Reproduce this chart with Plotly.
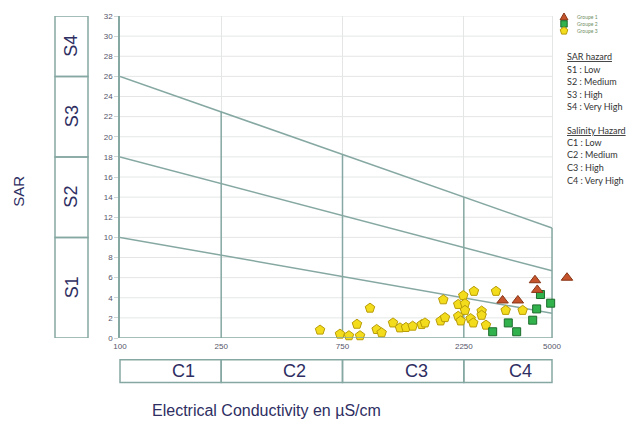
import math
import plotly.graph_objects as go

# ---- water samples: electrical conductivity (µS/cm) and SAR ----
g1_ec = [3196, 3670, 4286, 4375, 5727]
g1_sar = [3.73, 3.73, 5.74, 4.78, 5.99]

g2_ec = [2922, 3365, 3631, 4198, 4352, 4504, 4940]
g2_sar = [0.62, 1.50, 0.62, 1.77, 2.89, 4.32, 3.46]

g3_ec = [612, 733, 795, 879, 855, 962, 1022, 1069, 1185, 1262, 1333, 1416,
         1536, 1583, 1824, 1868, 1897, 2139, 2239, 2274, 2274, 2139, 2187,
         2393, 2450, 2466, 2644, 2644, 2750, 3011, 3287, 3833]
g3_sar = [0.79, 0.39, 0.23, 0.23, 1.37, 2.97, 0.85, 0.52, 1.50, 1.01, 1.05, 1.18,
          1.34, 1.50, 1.70, 3.80, 2.03, 3.34, 4.22, 3.41, 2.75, 2.16, 1.70,
          1.93, 1.50, 4.64, 2.68, 2.26, 1.28, 4.64, 2.75, 2.75]

# ---- Richards classification boundaries ----
ec_ends = [100, 5000]
s12_line = [10, 2.45]
s23_line = [18, 6.68]
s34_line = [26, 10.94]
c_limits = [250, 750, 2250, 5000]
c_tops = [22.48, 18.25, 14.02, 10.94]

s_bounds = [0, 10, 18, 26, 32]
s_names = ["S1", "S2", "S3", "S4"]
c_bounds = [100, 250, 750, 2250, 5000]
c_names = ["C1", "C2", "C3", "C4"]

x_ticks = [100, 250, 750, 2250, 5000]
y_ticks = list(range(0, 33, 2))

group_names = ["Groupe 1", "Groupe 2", "Groupe 3"]
sar_hazard = ["S1 : Low", "S2 : Medium", "S3 : High", "S4 : Very High"]
sal_hazard = ["C1 : Low", "C2 : Medium", "C3 : High", "C4 : Very High"]

# ---- geometry (pixels) ----
W, H = 632, 425
L, T, B = 120, 12, 87
FRAME_R = 552            # right edge of the diagram frame (EC = 5000)
AREA_R = 585             # plotting area runs a little further so outliers stay visible
PW, PH = AREA_R - L, H - T - B
LINE = "#86a8a2"
GRID = "#e4e6e6"
NAVY = "#2e2e62"

x_lo = math.log10(x_ticks[0])
decade_px = (FRAME_R - L) / (math.log10(x_ticks[-1]) - x_lo)
x_hi = x_lo + PW / decade_px


def px(x):
    return (x - L) / PW


def py(y):
    return (H - B - y) / PH


def logpos(v):
    return (math.log10(v) - x_lo) / (x_hi - x_lo)


fig = go.Figure()

# diagonal SAR class boundaries
for line in (s12_line, s23_line, s34_line):
    fig.add_trace(go.Scatter(x=ec_ends, y=line, mode="lines",
                             line=dict(color=LINE, width=1.5),
                             hoverinfo="skip", showlegend=False))

# vertical salinity class boundaries
vx, vy = [], []
for c, top in zip(c_limits, c_tops):
    vx += [c, c, None]
    vy += [0, top, None]
fig.add_trace(go.Scatter(x=vx, y=vy, mode="lines",
                         line=dict(color=LINE, width=1.5),
                         hoverinfo="skip", showlegend=False))

# samples
fig.add_trace(go.Scatter(x=g3_ec, y=g3_sar, mode="markers", name=group_names[2],
                         marker=dict(symbol="pentagon", size=10, color="#f3dc1c",
                                     line=dict(color="#b89c08", width=1)),
                         cliponaxis=False, showlegend=False))
fig.add_trace(go.Scatter(x=g2_ec, y=g2_sar, mode="markers", name=group_names[1],
                         marker=dict(symbol="square", size=8, color="#31b24d",
                                     line=dict(color="#1d6b2c", width=1)),
                         cliponaxis=False, showlegend=False))
fig.add_trace(go.Scatter(x=g1_ec, y=g1_sar, mode="markers", name=group_names[0],
                         marker=dict(symbol="triangle-up", size=10, color="#c5542c",
                                     line=dict(color="#873516", width=1)),
                         cliponaxis=False, showlegend=False))

shapes = []
annotations = []
frame_right = logpos(x_ticks[-1])

# horizontal grid and bottom axis line, limited to the diagram frame
for v in y_ticks[1:]:
    shapes.append(dict(type="line", xref="paper", yref="y", x0=0, x1=frame_right,
                       y0=v, y1=v, layer="below", line=dict(color=GRID, width=1)))
shapes.append(dict(type="line", xref="paper", yref="y", x0=0, x1=frame_right,
                   y0=0, y1=0, line=dict(color=LINE, width=1.5)))

# SAR class boxes on the left
for i, name in enumerate(s_names):
    shapes.append(dict(type="rect", xref="paper", yref="y",
                       x0=px(55), x1=px(88), y0=s_bounds[i], y1=s_bounds[i + 1],
                       line=dict(color=LINE, width=1.5), fillcolor="rgba(0,0,0,0)"))
    annotations.append(dict(xref="paper", yref="y", x=px(71.5),
                            y=(s_bounds[i] + s_bounds[i + 1]) / 2, text=name,
                            textangle=-90, showarrow=False,
                            xanchor="center", yanchor="middle",
                            font=dict(family="Liberation Sans", size=18, color=NAVY)))

# salinity class boxes below the axis
for i, name in enumerate(c_names):
    x0, x1 = logpos(c_bounds[i]), logpos(c_bounds[i + 1])
    shapes.append(dict(type="rect", xref="paper", yref="paper",
                       x0=x0, x1=x1, y0=py(383), y1=py(360),
                       line=dict(color=LINE, width=1.5), fillcolor="rgba(0,0,0,0)"))
    annotations.append(dict(xref="paper", yref="paper", x=(x0 + x1) / 2, xshift=13,
                            y=py(371.5), text=name, showarrow=False,
                            xanchor="center", yanchor="middle",
                            font=dict(family="Liberation Sans", size=18, color=NAVY)))

# axis titles
annotations.append(dict(xref="paper", yref="paper", x=px(266), y=py(411),
                        text="Electrical Conductivity en µS/cm", showarrow=False,
                        xanchor="center", yanchor="middle",
                        font=dict(family="Liberation Sans", size=16, color=NAVY)))
annotations.append(dict(xref="paper", yref="paper", x=px(19), y=py(190),
                        text="SAR", textangle=-90, showarrow=False,
                        xanchor="center", yanchor="middle",
                        font=dict(family="Liberation Sans", size=15, color=NAVY)))

# group key
key_paths = [
    ("M -4 -3 L 4 -3 L 0 4 Z", "#c5542c", "#873516"),
    ("M -3.2 -3.2 L 3.2 -3.2 L 3.2 3.2 L -3.2 3.2 Z", "#31b24d", "#1d6b2c"),
    ("M 0 4 L 3.8 1.2 L 2.4 -3.3 L -2.4 -3.3 L -3.8 1.2 Z", "#f3dc1c", "#b89c08"),
]
for k, (path, fill, edge) in enumerate(key_paths):
    yk = 13 + 7 * k
    shapes.append(dict(type="path", xref="paper", yref="paper",
                       xsizemode="pixel", ysizemode="pixel",
                       xanchor=px(564), yanchor=py(yk), path=path,
                       fillcolor=fill, line=dict(color=edge, width=1)))
    annotations.append(dict(xref="paper", yref="paper", x=px(575), y=py(yk),
                            xanchor="left", yanchor="middle",
                            text=group_names[k], showarrow=False,
                            font=dict(family="Lato", size=5, color="#6f8f5f")))

# hazard notes
note_font = dict(family="Lato", size=9, color="#333333")


def note(text, y):
    annotations.append(dict(xref="paper", yref="paper", x=px(565), y=py(y),
                            xanchor="left", yanchor="middle", text=text,
                            showarrow=False, font=note_font))


note("<u>SAR hazard</u>", 53)
for k, t in enumerate(sar_hazard):
    note(t, 66 + 12.7 * k)
note("<u>Salinity Hazard</u>", 128)
for k, t in enumerate(sal_hazard):
    note(t, 140 + 12.7 * k)

fig.update_layout(
    width=W, height=H,
    margin=dict(l=L, r=W - AREA_R, t=T, b=B),
    paper_bgcolor="white", plot_bgcolor="white",
    showlegend=False,
    shapes=shapes, annotations=annotations,
    xaxis=dict(type="log", range=[x_lo, x_hi],
               tickvals=x_ticks, ticktext=[str(v) for v in x_ticks],
               showgrid=True, gridcolor=GRID, gridwidth=1,
               showline=False, zeroline=False, ticks="", ticklabelstandoff=2,
               tickfont=dict(family="Liberation Sans", size=8, color="#55556a")),
    yaxis=dict(range=[0, 32], tickvals=y_ticks,
               showgrid=False,
               showline=True, linecolor=LINE, linewidth=1.5,
               zeroline=False, ticks="outside", ticklen=4, tickcolor="#cfd6d5",
               tickfont=dict(family="Liberation Sans", size=8, color="#55556a")),
)

fig.write_html("out.html")
